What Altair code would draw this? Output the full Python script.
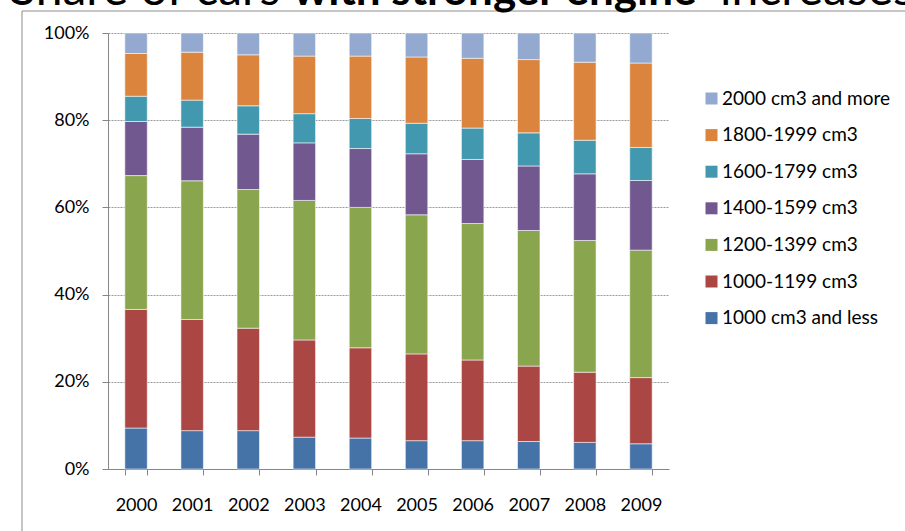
import altair as alt
import pandas as pd

# Engine-size classes, bottom of the stack first
classes = [
    "1000 cm3 and less",
    "1000-1199 cm3",
    "1200-1399 cm3",
    "1400-1599 cm3",
    "1600-1799 cm3",
    "1800-1999 cm3",
    "2000 cm3 and more",
]
colors = ["#4572A7", "#AA4643", "#89A54E", "#71588F", "#4198AF", "#DB843D", "#93A9CF"]

years = ["2000", "2001", "2002", "2003", "2004", "2005", "2006", "2007", "2008", "2009"]

# Share of newly registered cars per class (%), one list per class
share_le1000 = [9.4, 8.8, 8.8, 7.3, 7.1, 6.5, 6.5, 6.3, 6.1, 5.8]
share_1000_1199 = [27.2, 25.5, 23.5, 22.3, 20.7, 19.9, 18.5, 17.3, 16.1, 15.2]
share_1200_1399 = [30.7, 31.8, 31.8, 32.0, 32.2, 31.9, 31.3, 31.1, 30.2, 29.3]
share_1400_1599 = [12.4, 12.3, 12.7, 13.2, 13.5, 14.0, 14.7, 14.8, 15.3, 16.0]
share_1600_1799 = [5.8, 6.2, 6.5, 6.7, 6.9, 7.0, 7.2, 7.6, 7.7, 7.6]
share_1800_1999 = [9.8, 11.0, 11.7, 13.2, 14.3, 15.2, 16.0, 16.8, 17.9, 19.4]
share_ge2000 = [4.7, 4.4, 5.0, 5.3, 5.3, 5.5, 5.8, 6.1, 6.7, 6.9]

series = [share_le1000, share_1000_1199, share_1200_1399, share_1400_1599,
          share_1600_1799, share_1800_1999, share_ge2000]

title_parts = ["Share of cars", "with stronger engine", "increases"]

rows = []
for idx, (cls, vals) in enumerate(zip(classes, series)):
    for yr, v in zip(years, vals):
        rows.append({"year": yr, "cls": cls, "share": v, "stack_idx": idx})
df = pd.DataFrame(rows)

FONT = "Lato"

bars = alt.Chart(df).mark_bar(
    stroke="white", strokeWidth=1, strokeOpacity=0.55
).encode(
    x=alt.X(
        "year:N",
        title=None,
        sort=years,
        scale=alt.Scale(paddingInner=0.6, paddingOuter=0.3),
        axis=alt.Axis(
            labelAngle=0, labelFontSize=18, labelFont=FONT, labelColor="#000000",
            tickBand="extent", tickSize=6, tickColor="#868686",
            domainColor="#868686", labelPadding=35, labelBaseline="alphabetic",
            grid=False,
        ),
    ),
    y=alt.Y(
        "share:Q",
        stack="normalize",
        title=None,
        scale=alt.Scale(domain=[0, 1], nice=False),
        axis=alt.Axis(
            values=[0, 0.2, 0.4, 0.6, 0.8, 1.0], format=".0%",
            labelFontSize=18, labelFont=FONT, labelColor="#000000",
            tickSize=6, tickColor="#868686", domainColor="#868686",
            labelPadding=13, grid=True, gridColor="#9a9a9a",
            gridDash=[2, 1], gridWidth=1,
        ),
    ),
    color=alt.Color(
        "cls:N",
        scale=alt.Scale(domain=classes[::-1], range=colors[::-1]),
        legend=alt.Legend(
            title=None, orient="none", legendX=594, legendY=56,
            symbolType="square", symbolSize=144, symbolStrokeWidth=0,
            labelFontSize=19, labelFont=FONT, labelColor="#000000",
            labelLimit=300, rowPadding=16.6, labelOffset=1, padding=0,
        ),
    ),
    order=alt.Order("stack_idx:Q", sort="ascending"),
)

one = pd.DataFrame({"k": [0]})

# Chart frame: left and top edges
frame_left = alt.Chart(one).mark_rule(color="#8c8c8c", strokeWidth=1).encode(
    x=alt.value(-86), y=alt.value(-22), y2=alt.value(520)
)
frame_top = alt.Chart(one).mark_rule(color="#8c8c8c", strokeWidth=1).encode(
    x=alt.value(-86), x2=alt.value(820), y=alt.value(-22)
)

# Headline in three runs (middle run bold)
t1 = alt.Chart(pd.DataFrame({"t": [title_parts[0]]})).mark_text(
    font=FONT, fontSize=48, align="left", baseline="alphabetic", color="#000000"
).encode(x=alt.value(-98), y=alt.value(-28), text="t:N")
t2 = alt.Chart(pd.DataFrame({"t": [title_parts[1]]})).mark_text(
    font=FONT, fontSize=44, fontWeight="bold", align="left", baseline="alphabetic", color="#000000"
).encode(x=alt.value(185), y=alt.value(-28), text="t:N")
t3 = alt.Chart(pd.DataFrame({"t": [title_parts[2]]})).mark_text(
    font=FONT, fontSize=48, align="left", baseline="alphabetic", color="#000000"
).encode(x=alt.value(612), y=alt.value(-28), text="t:N")

chart = alt.layer(frame_left, frame_top, bars, t1, t2, t3).properties(
    width=561,
    height=436,
    autosize=alt.AutoSizeParams(type="none"),
    padding={"left": 108, "top": 33, "right": 236, "bottom": 62},
    background="white",
).configure_view(stroke=None)

chart.save("out.html", embed_options={"renderer": "svg", "actions": False})
